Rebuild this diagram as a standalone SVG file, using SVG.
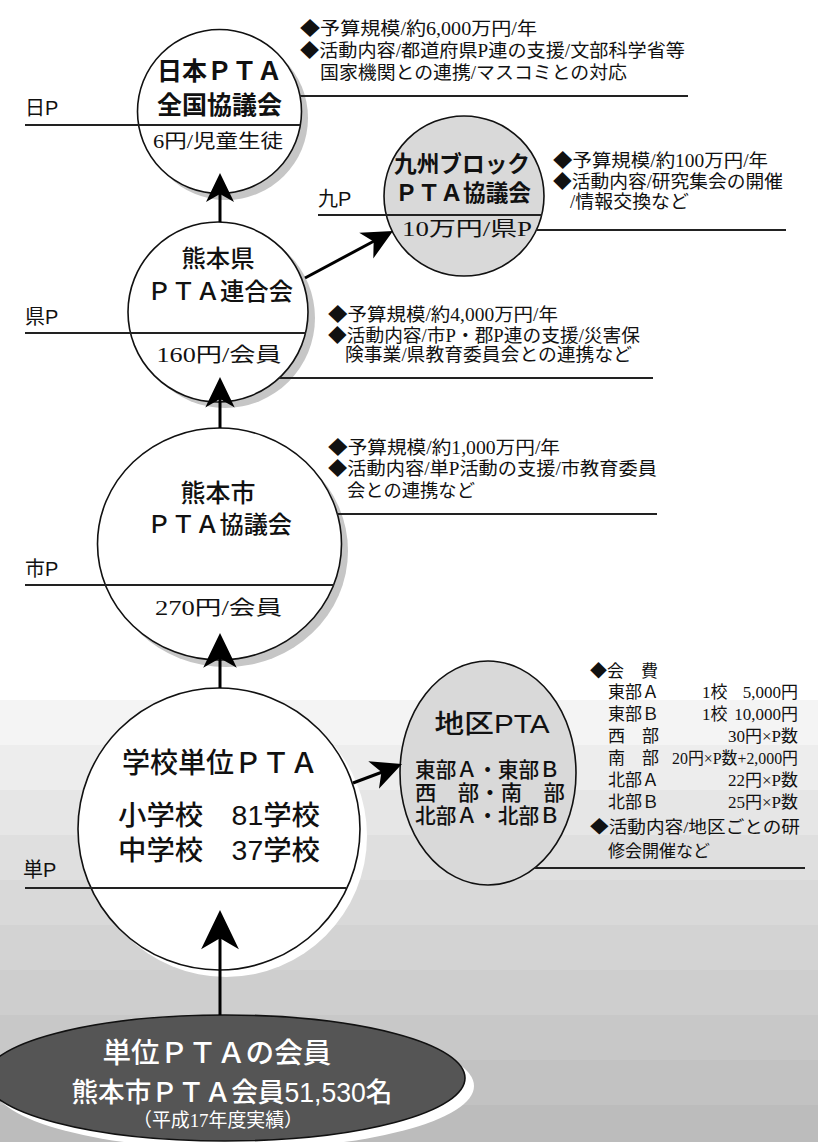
<svg xmlns="http://www.w3.org/2000/svg" xmlns:xlink="http://www.w3.org/1999/xlink" width="818" height="1142" viewBox="0 0 818 1142">
<defs>
<style>
.bg{stroke:none}
.shadow{fill:#c6c6c6;stroke:none}
.wshadow{fill:#ffffff;stroke:none}
.node{fill:#ffffff;stroke:#111;stroke-width:1.6}
.gnode{fill:#d9d9d9;stroke:#111;stroke-width:1.6}
.dnode{fill:#555555;stroke:#111;stroke-width:1.6}
.rule{stroke:#222;stroke-width:2;fill:none}
.conn{stroke:#000;stroke-width:3;fill:none}
.head{fill:#000;stroke:none}
.gt{font-family:"Liberation Sans","Noto Sans CJK JP",sans-serif;font-weight:500;fill:#111}
.gtb{font-family:"Liberation Sans","Noto Sans CJK JP",sans-serif;font-weight:700;fill:#111}
.st{font-family:"Liberation Serif","Noto Sans CJK JP",serif;fill:#111}
.lab{font-family:"Liberation Sans","Noto Sans CJK JP",sans-serif;font-size:20px;fill:#111}
.info{font-family:"Liberation Serif","Noto Sans CJK JP",serif;font-size:18.5px;fill:#111}
.fee{font-family:"Liberation Serif","Noto Sans CJK JP",serif;font-size:17px;fill:#111}
.wt{font-family:"Liberation Sans","Noto Sans CJK JP",sans-serif;font-weight:500;fill:#ffffff}
.wst{font-family:"Liberation Serif","Noto Sans CJK JP",serif;fill:#ffffff}
</style>
<path id="ah" d="M0,0 L14,29 L0,21 L-14,29 Z"/>
</defs>

<g id="background">
<rect x="0" y="0" width="818" height="1142" fill="#ffffff"/>
<rect class="bg" x="0" y="700" width="818" height="45" fill="#f4f4f4"/>
<rect class="bg" x="0" y="745" width="818" height="45" fill="#ededed"/>
<rect class="bg" x="0" y="790" width="818" height="45" fill="#e6e6e6"/>
<rect class="bg" x="0" y="835" width="818" height="45" fill="#dfdfdf"/>
<rect class="bg" x="0" y="880" width="818" height="45" fill="#d9d9d9"/>
<rect class="bg" x="0" y="925" width="818" height="45" fill="#d3d3d3"/>
<rect class="bg" x="0" y="970" width="818" height="45" fill="#cecece"/>
<rect class="bg" x="0" y="1015" width="818" height="45" fill="#c8c8c8"/>
<rect class="bg" x="0" y="1060" width="818" height="45" fill="#c2c2c2"/>
<rect class="bg" x="0" y="1105" width="818" height="37" fill="#bcbcbc"/>
</g>

<g id="node-nihon">
<circle class="shadow" cx="226" cy="118" r="82"/>
<circle class="node" cx="219.5" cy="111.5" r="82"/>
<line class="rule" x1="25" y1="125" x2="300" y2="125"/>
<line class="rule" x1="300" y1="96" x2="688" y2="96"/>
<text class="lab" x="25" y="115">日P</text>
<text class="gtb" x="219.5" y="80" font-size="25" text-anchor="middle" textLength="125" lengthAdjust="spacingAndGlyphs">日本ＰＴＡ</text>
<text class="gtb" x="219.5" y="114" font-size="25" text-anchor="middle" textLength="125" lengthAdjust="spacingAndGlyphs">全国協議会</text>
<text class="st" x="218" y="148" font-size="19" text-anchor="middle" textLength="130" lengthAdjust="spacingAndGlyphs">6円/児童生徒</text>
<text class="info" x="300" y="35" textLength="237" lengthAdjust="spacingAndGlyphs">◆予算規模/約6,000万円/年</text>
<text class="info" x="300" y="57" textLength="385" lengthAdjust="spacingAndGlyphs">◆活動内容/都道府県P連の支援/文部科学省等</text>
<text class="info" x="320" y="79" textLength="307" lengthAdjust="spacingAndGlyphs">国家機関との連携/マスコミとの対応</text>
</g>

<g id="node-kyushu">
<circle class="gnode" cx="464" cy="196" r="80"/>
<line class="rule" x1="318" y1="215" x2="542" y2="215"/>
<line class="rule" x1="536" y1="230" x2="786" y2="230"/>
<text class="lab" x="318" y="206">九P</text>
<text class="gtb" x="462" y="172" font-size="23" text-anchor="middle" textLength="136" lengthAdjust="spacingAndGlyphs">九州ブロック</text>
<text class="gtb" x="463" y="201" font-size="23" text-anchor="middle" textLength="136" lengthAdjust="spacingAndGlyphs">ＰＴＡ協議会</text>
<text class="st" x="467" y="236" font-size="20" text-anchor="middle" textLength="130" lengthAdjust="spacingAndGlyphs">10万円/県P</text>
<text class="info" x="553" y="167" textLength="215" lengthAdjust="spacingAndGlyphs">◆予算規模/約100万円/年</text>
<text class="info" x="553" y="188" textLength="230" lengthAdjust="spacingAndGlyphs">◆活動内容/研究集会の開催</text>
<text class="info" x="570" y="208" textLength="119" lengthAdjust="spacingAndGlyphs">/情報交換など</text>
</g>

<g id="node-kumamoto-ken">
<circle class="shadow" cx="225" cy="318" r="90"/>
<circle class="node" cx="218" cy="312" r="90"/>
<line class="rule" x1="25" y1="333" x2="306" y2="333"/>
<line class="rule" x1="279" y1="378" x2="653" y2="378"/>
<text class="lab" x="25" y="324">県P</text>
<text class="gt" x="218" y="267" font-size="24" text-anchor="middle" textLength="73" lengthAdjust="spacingAndGlyphs">熊本県</text>
<text class="gt" x="220" y="300" font-size="24" text-anchor="middle" textLength="146" lengthAdjust="spacingAndGlyphs">ＰＴＡ連合会</text>
<text class="st" x="219" y="362" font-size="20" text-anchor="middle" textLength="125" lengthAdjust="spacingAndGlyphs">160円/会員</text>
<text class="info" x="328" y="321" textLength="230" lengthAdjust="spacingAndGlyphs">◆予算規模/約4,000万円/年</text>
<text class="info" x="328" y="342" textLength="312" lengthAdjust="spacingAndGlyphs">◆活動内容/市P・郡P連の支援/災害保</text>
<text class="info" x="345" y="361" textLength="287" lengthAdjust="spacingAndGlyphs">険事業/県教育委員会との連携など</text>
</g>

<g id="node-kumamoto-shi">
<ellipse class="shadow" cx="226" cy="551" rx="122" ry="116"/>
<ellipse class="node" cx="219.5" cy="544" rx="122" ry="116"/>
<line class="rule" x1="25" y1="585" x2="334" y2="585"/>
<line class="rule" x1="337" y1="514" x2="657" y2="514"/>
<text class="lab" x="25" y="576">市P</text>
<text class="gt" x="218" y="502" font-size="25" text-anchor="middle" textLength="75" lengthAdjust="spacingAndGlyphs">熊本市</text>
<text class="gt" x="219.5" y="533" font-size="24" text-anchor="middle" textLength="145" lengthAdjust="spacingAndGlyphs">ＰＴＡ協議会</text>
<text class="st" x="218.5" y="615" font-size="20" text-anchor="middle" textLength="127" lengthAdjust="spacingAndGlyphs">270円/会員</text>
<text class="info" x="328" y="454" textLength="232" lengthAdjust="spacingAndGlyphs">◆予算規模/約1,000万円/年</text>
<text class="info" x="328" y="475" textLength="329" lengthAdjust="spacingAndGlyphs">◆活動内容/単P活動の支援/市教育委員</text>
<text class="info" x="347" y="497" textLength="128" lengthAdjust="spacingAndGlyphs">会との連携など</text>
</g>

<g id="node-tani">
<circle class="wshadow" cx="226" cy="836" r="141"/>
<circle class="node" cx="219" cy="829" r="141"/>
<line class="rule" x1="25" y1="888" x2="346" y2="888"/>
<text class="lab" x="23" y="877">単P</text>
<text class="gt" x="220" y="773" font-size="28" text-anchor="middle" textLength="196" lengthAdjust="spacingAndGlyphs">学校単位ＰＴＡ</text>
<text class="gt" x="219" y="825" font-size="27" text-anchor="middle" textLength="202" lengthAdjust="spacingAndGlyphs">小学校　81学校</text>
<text class="gt" x="219" y="860" font-size="27" text-anchor="middle" textLength="202" lengthAdjust="spacingAndGlyphs">中学校　37学校</text>
</g>

<g id="node-chiku">
<ellipse class="gnode" cx="488" cy="773" rx="88" ry="112"/>
<line class="rule" x1="535" y1="868" x2="805" y2="868"/>
<text class="gt" x="492" y="733" font-size="26" text-anchor="middle" textLength="115" lengthAdjust="spacingAndGlyphs">地区PTA</text>
<text class="gt" x="415" y="777" font-size="21" textLength="145" lengthAdjust="spacingAndGlyphs">東部Ａ・東部Ｂ</text>
<text class="gt" x="415" y="800" font-size="21" textLength="150" lengthAdjust="spacingAndGlyphs">西　部・南　部</text>
<text class="gt" x="415" y="823" font-size="21" textLength="145" lengthAdjust="spacingAndGlyphs">北部Ａ・北部Ｂ</text>
<text class="fee" x="590" y="677">◆会　費</text>
<text class="fee" x="608" y="698">東部Ａ</text>
<text class="fee" x="702" y="698">1校</text>
<text class="fee" x="798" y="698" text-anchor="end">5,000円</text>
<text class="fee" x="608" y="720">東部Ｂ</text>
<text class="fee" x="702" y="720">1校</text>
<text class="fee" x="798" y="720" text-anchor="end">10,000円</text>
<text class="fee" x="608" y="742">西　部</text>
<text class="fee" x="798" y="742" text-anchor="end">30円×P数</text>
<text class="fee" x="608" y="764">南　部</text>
<text class="fee" x="798" y="764" text-anchor="end" font-size="15.5" textLength="126" lengthAdjust="spacingAndGlyphs">20円×P数+2,000円</text>
<text class="fee" x="608" y="786">北部Ａ</text>
<text class="fee" x="798" y="786" text-anchor="end">22円×P数</text>
<text class="fee" x="608" y="808">北部Ｂ</text>
<text class="fee" x="798" y="808" text-anchor="end">25円×P数</text>
<text class="fee" x="590" y="833" textLength="210" lengthAdjust="spacingAndGlyphs">◆活動内容/地区ごとの研</text>
<text class="fee" x="608" y="857">修会開催など</text>
</g>

<g id="node-members">
<ellipse class="wshadow" cx="234" cy="1086" rx="240" ry="63"/>
<ellipse class="dnode" cx="225" cy="1078" rx="240" ry="63"/>
<text class="wt" x="217" y="1063" font-size="28" text-anchor="middle" textLength="229" lengthAdjust="spacingAndGlyphs">単位ＰＴＡの会員</text>
<text class="wt" x="232" y="1102" font-size="27" text-anchor="middle" textLength="321" lengthAdjust="spacingAndGlyphs">熊本市ＰＴＡ会員51,530名</text>
<text class="wst" x="218" y="1127" font-size="19" text-anchor="middle" textLength="170" lengthAdjust="spacingAndGlyphs">（平成17年度実績）</text>
</g>

<g id="connectors">
<line class="conn" x1="220" y1="222" x2="220" y2="192"/>
<use xlink:href="#ah" class="head" transform="translate(220,173)"/>
<line class="conn" x1="220" y1="428" x2="220" y2="398"/>
<use xlink:href="#ah" class="head" transform="translate(220,377) scale(1.05)"/>
<line class="conn" x1="220" y1="688" x2="220" y2="655"/>
<use xlink:href="#ah" class="head" transform="translate(220,633) scale(1.2)"/>
<line class="conn" x1="220" y1="1015" x2="220" y2="938"/>
<use xlink:href="#ah" class="head" transform="translate(220,910) scale(1.35)"/>
<line class="conn" x1="305" y1="278" x2="376" y2="240"/>
<use xlink:href="#ah" class="head" transform="translate(393,231) rotate(61.4) scale(1.05)"/>
<line class="conn" x1="353" y1="783" x2="385" y2="771"/>
<use xlink:href="#ah" class="head" transform="translate(402,764) rotate(68.8) scale(1.05)"/>
</g>
</svg>
